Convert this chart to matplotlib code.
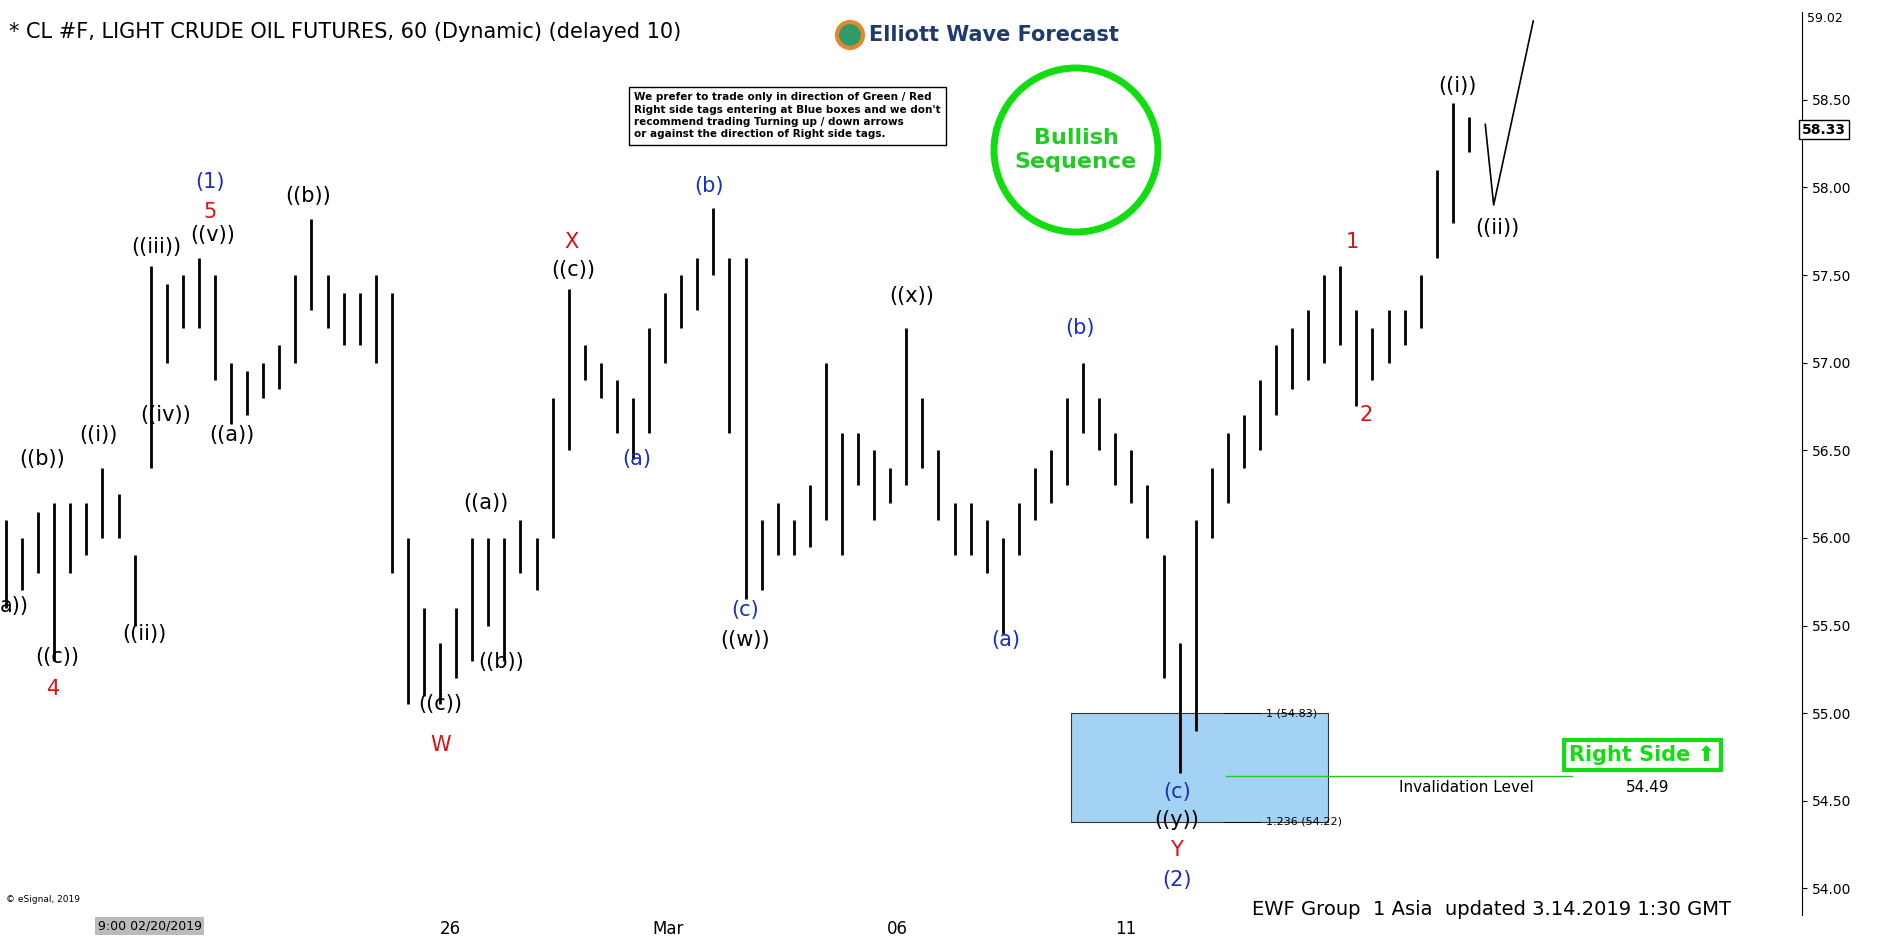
import matplotlib
matplotlib.use("Agg")
import matplotlib.pyplot as plt
from matplotlib.patches import Rectangle, Circle

# ---- data (bar highs / lows, approx 4h bars) ----
highs = [56.1,56.0,56.15,56.2,56.2,56.2,56.4,56.25,55.9,57.55,57.45,57.5,57.6,57.5,57.0,56.95,57.0,57.1,57.5,57.82,
         57.5,57.4,57.4,57.5,57.4,56.0,55.6,55.4,55.6,56.0,56.0,56.0,56.1,56.0,56.8,57.42,57.1,57.0,56.9,56.8,
         57.2,57.4,57.5,57.6,57.88,57.6,57.6,56.1,56.2,56.1,56.3,57.0,56.6,56.6,56.5,56.4,57.2,56.8,56.5,56.2,
         56.2,56.1,56.0,56.2,56.4,56.5,56.8,57.0,56.8,56.6,56.5,56.3,55.9,55.4,56.1,56.4,56.6,56.7,56.9,57.1,
         57.2,57.3,57.5,57.55,57.3,57.2,57.3,57.3,57.5,58.1,58.48,58.4]
lows = [55.6,55.7,55.8,55.3,55.8,55.9,56.0,56.0,55.5,56.4,57.0,57.2,57.2,56.9,56.65,56.7,56.8,56.85,57.0,57.3,
        57.2,57.1,57.1,57.0,55.8,55.05,55.1,55.05,55.2,55.3,55.5,55.3,55.8,55.7,56.0,56.5,56.9,56.8,56.6,56.45,
        56.6,57.0,57.2,57.3,57.5,56.6,55.65,55.7,55.9,55.9,55.95,56.1,55.9,56.3,56.1,56.2,56.3,56.4,56.1,55.9,
        55.9,55.8,55.45,55.9,56.1,56.2,56.3,56.6,56.5,56.3,56.2,56.0,55.2,54.66,54.9,56.0,56.2,56.4,56.5,56.7,
        56.85,56.9,57.0,57.1,56.75,56.9,57.0,57.1,57.2,57.6,57.8,58.2]
yticks = [54.0,54.5,55.0,55.5,56.0,56.5,57.0,57.5,58.0,58.5]
date_labels = ["26", "Mar", "06", "11"]
date_pos = [375, 557, 748, 938]

black_labels = [(12,55.61,"a))"),(48,55.32,"((c))"),(35,56.45,"((b))"),(82,56.59,"((i))"),(120,55.45,"((ii))"),
                (138,56.70,"((iv))"),(130,57.66,"((iii))"),(177,57.73,"((v))"),(193,56.59,"((a))"),(257,57.95,"((b))"),
                (367,55.05,"((c))"),(405,56.2,"((a))"),(418,55.29,"((b))"),(478,57.53,"((c))"),(621,55.42,"((w))"),
                (760,57.38,"((x))"),(981,54.39,"((y))"),(1215,58.58,"((i))"),(1248,57.77,"((ii))")]
red_labels = [(45,55.14,"4"),(175,57.86,"5"),(367,54.82,"W"),(476,57.69,"X"),(981,54.22,"Y"),(1127,57.69,"1"),(1139,56.70,"2")]
blue_labels = [(175,58.03,"(1)"),(531,56.45,"(a)"),(591,58.01,"(b)"),(621,55.59,"(c)"),(838,55.42,"(a)"),
               (900,57.2,"(b)"),(981,54.55,"(c)"),(981,54.05,"(2)")]

fig = plt.figure(figsize=(18.81, 9.41), dpi=100)
ax = fig.add_axes([0.0, 0.028, 0.958, 0.959])
ax.set_xlim(0, 1502)
ax.set_ylim(53.85, 59.0)

xs = [5 + 13.4 * i for i in range(len(highs))]
ax.vlines(xs, lows, highs, color="black", lw=2)

for s in ["top", "left", "bottom"]:
    ax.spines[s].set_visible(False)
ax.yaxis.tick_right()
ax.set_yticks(yticks)
ax.set_yticklabels([f"{v:.2f}" for v in yticks], fontsize=10)
ax.set_xticks(date_pos)
ax.set_xticklabels(date_labels, fontsize=12)
ax.tick_params(axis="x", length=0)

for x, y, t in black_labels:
    ax.text(x, y, t, ha="center", va="center", fontsize=15, color="black")
for x, y, t in red_labels:
    ax.text(x, y, t, ha="center", va="center", fontsize=15, color="#dd1111")
for x, y, t in blue_labels:
    ax.text(x, y, t, ha="center", va="center", fontsize=15, color="#1a2fbf")

# blue box (drawn where it appears on the chart)
box_top, box_bot = 55.0, 54.38
ax.add_patch(Rectangle((893, box_bot), 214, box_top - box_bot, facecolor="#a3d2f5", edgecolor="#333", lw=0.8))
ax.plot([1020, 1050], [box_top, box_top], color="black", lw=0.6)
ax.plot([1020, 1050], [box_bot, box_bot], color="black", lw=0.6)
ax.text(1055, box_top, "1 (54.83)", fontsize=8, va="center")
ax.text(1055, box_bot, "1.236 (54.22)", fontsize=8, va="center")
ax.plot([1022, 1310], [54.64, 54.64], color="#22cc22", lw=1)
ax.text(1222, 54.575, "Invalidation Level", fontsize=11, ha="center", va="center")
ax.text(1373, 54.575, "54.49", fontsize=11, ha="center", va="center")
ax.text(1369, 54.76, "Right Side \u2b06", fontsize=15, fontweight="bold", color="#11dd11", ha="center", va="center",
        family=["DejaVu Sans"], bbox=dict(boxstyle="square,pad=0.25", fc="white", ec="#11dd11", lw=3))

# projection
ax.plot([1238, 1245, 1278], [58.36, 57.9, 58.95], color="black", lw=1.2)

# price labels right
ax.text(1.0, 58.33, "58.33", transform=ax.get_yaxis_transform(), fontsize=10, fontweight="bold",
        color="black", va="center", ha="left", bbox=dict(boxstyle="square,pad=0.2", fc="white", ec="black"))
ax.text(1.003, 59.0, "59.02", transform=ax.get_yaxis_transform(), fontsize=9, va="top", ha="left")

# texts
fig.text(0.005, 0.966, "* CL #F, LIGHT CRUDE OIL FUTURES, 60 (Dynamic) (delayed 10)", fontsize=15, va="center")
fig.text(0.462, 0.963, "Elliott Wave Forecast", fontsize=15, fontweight="bold", color="#1f3b6e", va="center")
fig.add_artist(Circle((850, 906), 13, transform=None, fc="#2e9d6a", ec="#e8862a", lw=3))
fig.text(0.337, 0.877, "We prefer to trade only in direction of Green / Red\nRight side tags entering at Blue boxes and we don't\n"
         "recommend trading Turning up / down arrows\nor against the direction of Right side tags.",
         fontsize=7.5, fontweight="bold", va="center", ha="left", linespacing=1.3,
         bbox=dict(boxstyle="square,pad=0.5", fc="white", ec="black", lw=1))
fig.add_artist(Circle((1076, 791), 82, transform=None, fc="white", ec="#11dd11", lw=5))
fig.text(1076 / 1881, 791 / 941, "Bullish\nSequence", fontsize=16, fontweight="bold", color="#22cc22",
         ha="center", va="center")
fig.text(0.793, 0.034, "EWF Group  1 Asia  updated 3.14.2019 1:30 GMT", fontsize=14, va="center", ha="center")
fig.text(0.003, 0.044, "\u00a9 eSignal, 2019", fontsize=6.5, va="center")
fig.text(0.052, 0.016, "9:00 02/20/2019", fontsize=9, va="center",
         bbox=dict(boxstyle="square,pad=0.2", fc="#bbbbbb", ec="none"))

fig.savefig("out.png", dpi=100)
